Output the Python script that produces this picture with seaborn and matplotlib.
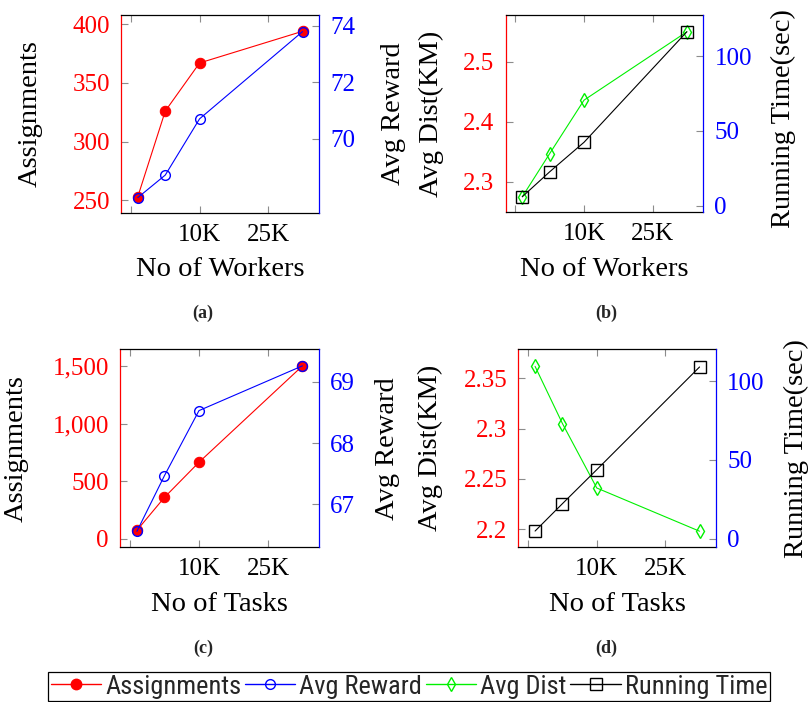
import matplotlib
matplotlib.use("Agg")
import matplotlib.pyplot as plt
import matplotlib.ticker as mticker
from matplotlib.lines import Line2D
from matplotlib import font_manager
import seaborn as sns
import pandas as pd

# ---------------- data ----------------
n_workers = [1000, 5000, 10000, 25000]
n_tasks = [1000, 5000, 10000, 25000]
x_ticks = [0, 10000, 20000]
x_ticklabels = ["", "10K", "25K"]

a_assign = [253, 326, 367, 394]
a_reward = [67.9, 68.7, 70.7, 73.8]
b_dist = [2.275, 2.347, 2.436, 2.55]
b_time = [6.0, 22.7, 42.4, 116.3]
c_assign = [75, 361, 665, 1500]
c_reward = [66.56, 67.47, 68.53, 69.26]
d_dist = [2.362, 2.305, 2.241, 2.198]
d_time = [4.9, 22.3, 43.8, 108.9]

legend_labels = ["Assignments", "Avg Reward", "Avg Dist", "Running Time"]
captions = ["(a)", "(b)", "(c)", "(d)"]

# ---------------- style ----------------
sns.set_theme(style="white")
plt.rcParams["font.family"] = ["Liberation Serif", "DejaVu Serif"]

RED = "#ff0000"
BLUE = "#0000ff"
GREEN = "#00f000"
BLACK = "#000000"
TICKC = "#8c8c8c"
LW = 0.8
TICK_FS = 18
LAB_FS = 20.5

# pick a narrow sans font for the legend if one exists
avail = {f.name for f in font_manager.fontManager.ttflist}
leg_family = None
for cand in ["Liberation Sans Narrow", "Roboto Condensed", "DejaVu Sans Condensed", "Open Sans Condensed"]:
    if cand in avail:
        leg_family = cand
        break
if leg_family is None:
    leg_prop = {"family": ["DejaVu Sans"], "stretch": "condensed", "size": 17}
else:
    leg_prop = {"family": [leg_family, "DejaVu Sans"], "size": 19}

fig = plt.figure(figsize=(8.1, 7.02), dpi=100)

W, H = 810.0, 702.0
def rect(l, r, t, b):
    return [l / W, 1 - b / H, (r - l) / W, (b - t) / H]

styles = {
    "assign": dict(color=RED, marker="o", markersize=7.5, markerfacecolor=RED, markeredgecolor=RED),
    "reward": dict(color=BLUE, marker="o", markersize=7.0, markerfacecolor="none", markeredgecolor=BLUE, markeredgewidth=1.0),
    "dist": dict(color=GREEN, marker="d", markersize=7.5, markerfacecolor="none", markeredgecolor=GREEN, markeredgewidth=1.0),
    "time": dict(color=BLACK, marker="s", markersize=8.0, markerfacecolor="none", markeredgecolor=BLACK, markeredgewidth=1.0),
}

panels = [
    dict(rect=rect(121, 319, 15, 212.5), x=n_workers, left=a_assign, right=a_reward,
         ls="assign", rs="reward", xlabel="No of Workers", llabel="Assignments", rlabel="Avg Reward",
         lylim=(239.5, 407.9), rylim=(67.37, 74.39), lticks=[250, 300, 350, 400], rticks=[70, 72, 74],
         lfmt=None, llab_x=-0.46, rlab_x=1.374, rlab_y=0.5, cap=(203, 313)),
    dict(rect=rect(505.5, 703.3, 15, 212.3), x=n_workers, left=b_dist, right=b_time,
         ls="dist", rs="time", xlabel="No of Workers", llabel="Avg Dist(KM)", rlabel="Running Time(sec)",
         lylim=(2.249, 2.578), rylim=(-4.4, 127.5), lticks=[2.3, 2.4, 2.5], rticks=[0, 50, 100],
         lfmt="g", llab_x=-0.373, rlab_x=1.403, rlab_y=0.475, cap=(606, 313)),
    dict(rect=rect(120, 319, 349.3, 547.3), x=n_tasks, left=c_assign, right=c_reward,
         ls="assign", rs="reward", xlabel="No of Tasks", llabel="Assignments", rlabel="Avg Reward",
         lylim=(-72, 1644), rylim=(66.30, 69.53), lticks=[0, 500, 1000, 1500], rticks=[67, 68, 69],
         lfmt="comma", llab_x=-0.523, rlab_x=1.342, rlab_y=0.5, cap=(203, 648)),
    dict(rect=rect(518.3, 716, 349.3, 547.3), x=n_tasks, left=d_dist, right=d_time,
         ls="dist", rs="time", xlabel="No of Tasks", llabel="Avg Dist(KM)", rlabel="Running Time(sec)",
         lylim=(2.182, 2.379), rylim=(-5.4, 120.1), lticks=[2.2, 2.25, 2.3, 2.35], rticks=[0, 50, 100],
         lfmt="g", llab_x=-0.447, rlab_x=1.408, rlab_y=0.5, cap=(606, 648)),
]

for i, p in enumerate(panels):
    ax = fig.add_axes(p["rect"])
    df = pd.DataFrame({"x": p["x"], "left": p["left"], "right": p["right"]})
    sns.lineplot(data=df, x="x", y="left", ax=ax, linewidth=LW, **styles[p["ls"]])
    ax.set_xlim(-1450, 27400)
    ax.set_ylim(*p["lylim"])
    ax.set_xticks(x_ticks)
    ax.set_xticklabels(x_ticklabels)
    ax.set_yticks(p["lticks"])
    if p["lfmt"] == "comma":
        ax.yaxis.set_major_formatter(mticker.FuncFormatter(lambda v, pos: f"{int(v):,}"))
    elif p["lfmt"] == "g":
        ax.yaxis.set_major_formatter(mticker.FuncFormatter(lambda v, pos: f"{v:g}"))
    ax.tick_params(axis="x", direction="in", length=5, width=0.8, color=TICKC, labelsize=TICK_FS,
                   labelcolor=BLACK, pad=8, top=True, bottom=True)
    ax.tick_params(axis="y", direction="in", length=5, width=0.8, color=TICKC, labelsize=TICK_FS,
                   labelcolor=RED, pad=8, left=True, right=False)
    for s in ["top", "bottom"]:
        ax.spines[s].set_color(BLACK)
        ax.spines[s].set_linewidth(0.9)
    ax.spines["left"].set_color(RED)
    ax.spines["left"].set_linewidth(0.9)
    ax.spines["right"].set_visible(False)
    ax.set_xlabel(p["xlabel"], fontsize=LAB_FS, color=BLACK)
    ax.xaxis.set_label_coords(0.5, -0.29)
    ax.xaxis.label.set_va("center")
    ax.set_ylabel(p["llabel"], fontsize=LAB_FS, color=BLACK)
    ax.yaxis.set_label_coords(p["llab_x"], 0.5)
    ax.yaxis.label.set_va("center")

    ax2 = ax.twinx()
    sns.lineplot(data=df, x="x", y="right", ax=ax2, linewidth=LW, **styles[p["rs"]])
    ax2.set_ylim(*p["rylim"])
    ax2.set_yticks(p["rticks"])
    ax2.tick_params(axis="y", direction="in", length=5, width=0.8, color=TICKC, labelsize=TICK_FS,
                    labelcolor=BLUE, pad=8, right=True, left=False)
    for s in ["top", "bottom", "left"]:
        ax2.spines[s].set_visible(False)
    ax2.spines["right"].set_color(BLUE)
    ax2.spines["right"].set_linewidth(0.9)
    ax2.set_ylabel(p["rlabel"], fontsize=LAB_FS, color=BLACK)
    ax2.yaxis.set_label_coords(p["rlab_x"], p["rlab_y"])
    ax2.yaxis.label.set_va("center")

    cx, cy = p["cap"]
    fig.text(cx / W, 1 - cy / H, captions[i], ha="center", va="center",
             fontsize=13, fontweight="bold")

handles = [Line2D([0, 1], [0, 0], linewidth=1.0, linestyle="-", **styles[k])
           for k in ["assign", "reward", "dist", "time"]]
leg = fig.legend(handles, legend_labels, loc="upper center", bbox_to_anchor=(0.505, 1 - 672 / H),
                 ncol=4, frameon=True, fancybox=False, edgecolor=BLACK, framealpha=1,
                 numpoints=1, handlelength=1.9, handletextpad=0.15, columnspacing=0.15,
                 borderpad=0.1, borderaxespad=0.0, prop=leg_prop)
leg.get_frame().set_linewidth(0.9)

fig.savefig("out.png", dpi=100)
